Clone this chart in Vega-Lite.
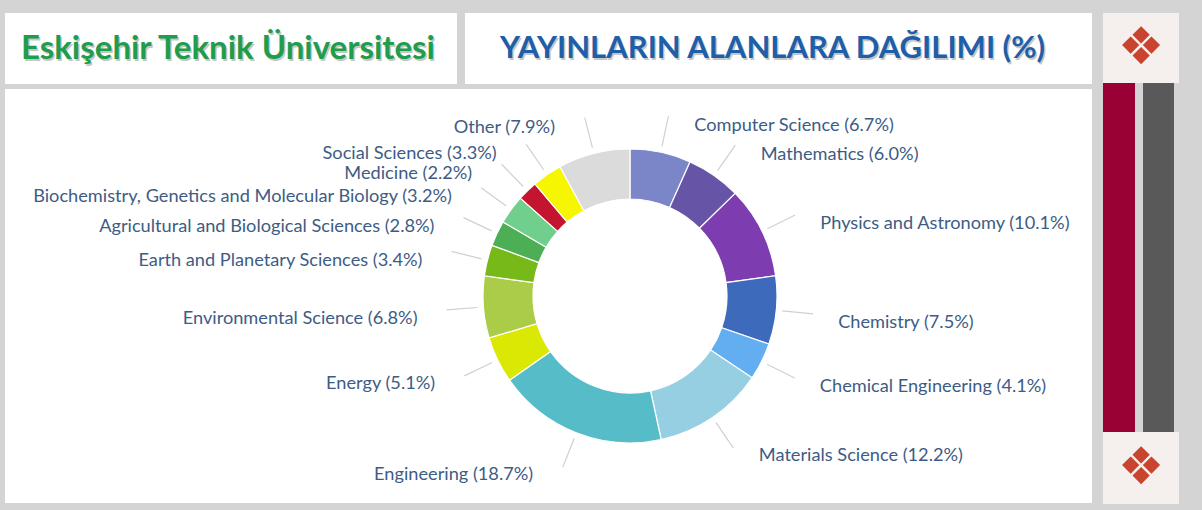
{
  "$schema": "https://vega.github.io/schema/vega-lite/v6.json",
  "background": "#d4d4d4",
  "padding": {"left": 5, "top": 13, "right": 23, "bottom": 6},
  "spacing": 11,
  "config": {"view": {"stroke": null}},
  "hconcat": [
    {
      "spacing": 5,
      "vconcat": [
        {
          "spacing": 8,
          "hconcat": [
            {
              "width": 452,
              "height": 71,
              "view": {"fill": "#ffffff", "stroke": null},
              "data": {"values": [{"t": "Eskişehir Teknik Üniversitesi"}]},
              "layer": [
                {
                  "mark": {"type": "text", "font": "Lato", "fontSize": 33, "fontWeight": "bold", "color": "#000000", "opacity": 0.22, "dx": -1.5, "dy": 2, "baseline": "middle"},
                  "encoding": {"text": {"field": "t"}}
                },
                {
                  "mark": {"type": "text", "font": "Lato", "fontSize": 33, "fontWeight": "bold", "color": "#1f9d4c", "dx": -3, "baseline": "middle"},
                  "encoding": {"text": {"field": "t"}}
                }
              ]
            },
            {
              "width": 627,
              "height": 71,
              "view": {"fill": "#ffffff", "stroke": null},
              "data": {"values": [{"t": "YAYINLARIN ALANLARA DAĞILIMI (%)"}]},
              "layer": [
                {
                  "mark": {"type": "text", "font": "Lato", "fontSize": 31, "fontWeight": "bold", "color": "#000000", "opacity": 0.22, "dx": -4.5, "dy": 2, "baseline": "middle"},
                  "encoding": {"text": {"field": "t"}}
                },
                {
                  "mark": {"type": "text", "font": "Lato", "fontSize": 31, "fontWeight": "bold", "color": "#1f5ea8", "dx": -6, "baseline": "middle"},
                  "encoding": {"text": {"field": "t"}}
                }
              ]
            }
          ]
        },
        {
          "spacing": 0,
          "bounds": "flush",
          "hconcat": [
            {
              "width": 163,
              "height": 414,
              "view": {"fill": "#ffffff", "stroke": null},
              "data": {"values": [{"t": ""}]},
              "mark": {"type": "text"},
              "encoding": {"text": {"field": "t"}}
            },
            {
              "width": 924,
              "height": 414,
              "view": {"fill": "#ffffff", "stroke": null},
              "data": {
                "values": [
                  {"i": 1, "cat": "Computer Science (6.7%)", "pct": 6.7},
                  {"i": 2, "cat": "Mathematics (6.0%)", "pct": 6.0},
                  {"i": 3, "cat": "Physics and Astronomy (10.1%)", "pct": 10.1},
                  {"i": 4, "cat": "Chemistry (7.5%)", "pct": 7.5},
                  {"i": 5, "cat": "Chemical Engineering (4.1%)", "pct": 4.1},
                  {"i": 6, "cat": "Materials Science (12.2%)", "pct": 12.2},
                  {"i": 7, "cat": "Engineering (18.7%)", "pct": 18.7},
                  {"i": 8, "cat": "Energy (5.1%)", "pct": 5.1},
                  {"i": 9, "cat": "Environmental Science (6.8%)", "pct": 6.8},
                  {"i": 10, "cat": "Earth and Planetary Sciences (3.4%)", "pct": 3.4},
                  {"i": 11, "cat": "Agricultural and Biological Sciences (2.8%)", "pct": 2.8},
                  {"i": 12, "cat": "Biochemistry, Genetics and Molecular Biology (3.2%)", "pct": 3.2},
                  {"i": 13, "cat": "Medicine (2.2%)", "pct": 2.2},
                  {"i": 14, "cat": "Social Sciences (3.3%)", "pct": 3.3},
                  {"i": 15, "cat": "Other (7.9%)", "pct": 7.9}
                ]
              },
              "encoding": {
                "theta": {"field": "pct", "type": "quantitative", "stack": true, "scale": {"domain": [0, 100]}},
                "order": {"field": "i", "type": "quantitative"}
              },
              "layer": [
                {
                  "mark": {"type": "arc", "outerRadius": 184, "innerRadius": 153, "padAngle": 3, "filled": false, "stroke": "#d0d0d0", "strokeWidth": 1.2},
                  "encoding": {}
                },
                {
                  "mark": {"type": "arc", "outerRadius": 147, "innerRadius": 97, "stroke": "#ffffff", "strokeWidth": 1.2},
                  "encoding": {
                    "color": {
                      "field": "cat",
                      "type": "nominal",
                      "legend": null,
                      "scale": {
                        "domain": [
                          "Computer Science (6.7%)", "Mathematics (6.0%)", "Physics and Astronomy (10.1%)", "Chemistry (7.5%)", "Chemical Engineering (4.1%)", "Materials Science (12.2%)", "Engineering (18.7%)", "Energy (5.1%)", "Environmental Science (6.8%)", "Earth and Planetary Sciences (3.4%)", "Agricultural and Biological Sciences (2.8%)", "Biochemistry, Genetics and Molecular Biology (3.2%)", "Medicine (2.2%)", "Social Sciences (3.3%)", "Other (7.9%)"
                        ],
                        "range": ["#7a86c7", "#6654a6", "#7d3cb0", "#3d6abb", "#62aef0", "#97cfe2", "#56bdc8", "#dbe803", "#aacc49", "#78b91a", "#4caf55", "#70cf8c", "#c31530", "#f6f600", "#dbdbdb"]
                      }
                    }
                  }
                },
                {
                  "mark": {
                    "type": "text",
                    "radius": 183,
                    "font": "Lato",
                    "fontSize": 18.2,
                    "color": "#3d5c85",
                    "baseline": "middle",
                    "dy": 9,
                    "align": {"expr": "datum.pct_start + datum.pct_end < 100 ? 'left' : 'right'"},
                    "dx": {"expr": "datum.pct_start + datum.pct_end < 100 ? 26 : -30"}
                  },
                  "encoding": {"text": {"field": "cat"}}
                }
              ]
            }
          ]
        }
      ]
    },
    {
      "spacing": 0,
      "vconcat": [
        {
          "width": 76,
          "height": 70,
          "view": {"fill": "#f5efed", "stroke": null},
          "data": {"values": [{"t": "❖"}]},
          "mark": {"type": "text", "fontSize": 52, "color": "#c8442f", "baseline": "middle", "font": "DejaVu Sans"},
          "encoding": {"text": {"field": "t"}}
        },
        {
          "spacing": 8,
          "hconcat": [
            {
              "width": 32,
              "height": 349,
              "view": {"fill": "#990033", "stroke": null},
              "data": {"values": [{"t": ""}]},
              "mark": {"type": "text"},
              "encoding": {"text": {"field": "t"}}
            },
            {
              "width": 31,
              "height": 349,
              "view": {"fill": "#595959", "stroke": null},
              "data": {"values": [{"t": ""}]},
              "mark": {"type": "text"},
              "encoding": {"text": {"field": "t"}}
            }
          ]
        },
        {
          "width": 76,
          "height": 72,
          "view": {"fill": "#f5efed", "stroke": null},
          "data": {"values": [{"t": "❖"}]},
          "mark": {"type": "text", "fontSize": 52, "color": "#c8442f", "baseline": "middle", "font": "DejaVu Sans"},
          "encoding": {"text": {"field": "t"}}
        }
      ]
    }
  ]
}
